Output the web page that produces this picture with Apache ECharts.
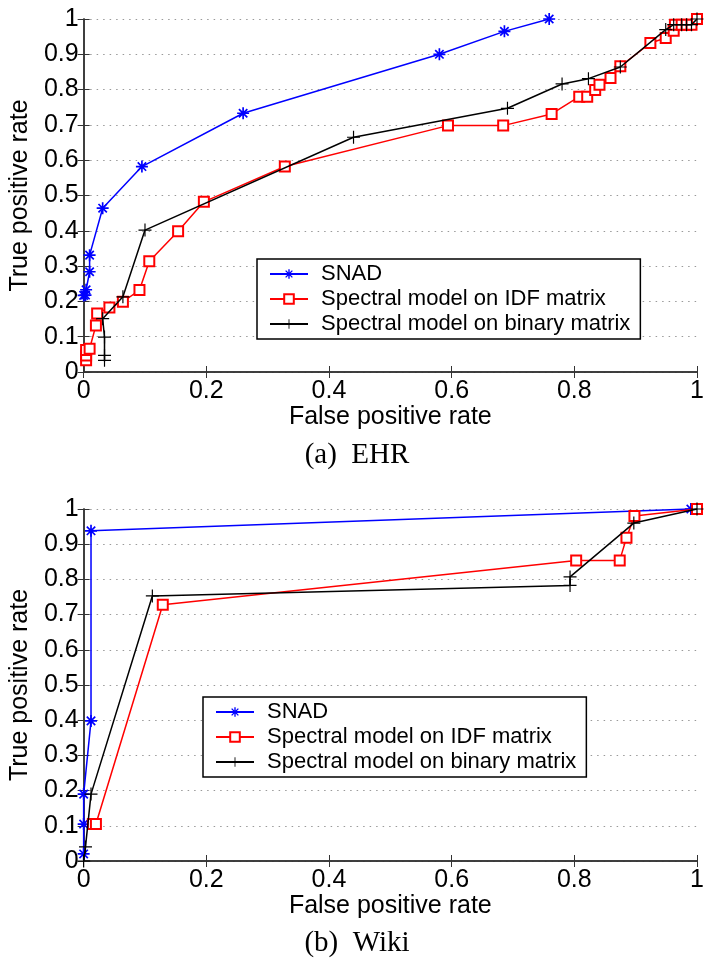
<!DOCTYPE html>
<html>
<head>
<meta charset="utf-8">
<script src="https://cdn.jsdelivr.net/npm/echarts@6/dist/echarts.min.js"></script>
<style>
html,body{margin:0;padding:0;background:#fff;}
#chart{width:714px;height:967px;}
</style>
</head>
<body>
<div id="chart"></div>
<script>
// ---------- DATA ----------
const seriesNames = ['SNAD', 'Spectral model on IDF matrix', 'Spectral model on binary matrix'];
const xTickLabels = ['0', '0.2', '0.4', '0.6', '0.8', '1'];
const captions = ['(a)  EHR', '(b)  Wiki'];

// (a) EHR
const ehrSnadX = [0, 0.003, 0.004, 0.0097, 0.0097, 0.031, 0.095, 0.26, 0.58, 0.686, 0.759];
const ehrSnadY = [0.217, 0.218, 0.233, 0.284, 0.331, 0.464, 0.582, 0.733, 0.9, 0.965, 1.0];

const ehrIdfX = [0.004, 0.004, 0.004, 0.0097, 0.02, 0.022, 0.042, 0.064, 0.091, 0.107, 0.154, 0.196, 0.328, 0.594, 0.684, 0.763, 0.808, 0.821, 0.834, 0.841, 0.859, 0.875, 0.924, 0.949, 0.962, 0.964, 0.975, 0.983, 0.991, 1.0];
const ehrIdfY = [0.033, 0.047, 0.062, 0.066, 0.132, 0.166, 0.183, 0.199, 0.232, 0.314, 0.399, 0.482, 0.582, 0.698, 0.698, 0.731, 0.78, 0.78, 0.799, 0.814, 0.833, 0.866, 0.932, 0.946, 0.967, 0.984, 0.984, 0.984, 0.984, 1.0];

const ehrBinX = [0.034, 0.034, 0.034, 0.031, 0.064, 0.1, 0.44, 0.691, 0.78, 0.823, 0.875, 0.949, 0.962, 0.975, 0.983, 0.991, 1.0];
const ehrBinY = [0.033, 0.047, 0.099, 0.151, 0.213, 0.402, 0.665, 0.747, 0.816, 0.831, 0.864, 0.97, 0.984, 0.984, 0.984, 0.984, 1.0];

// (b) Wiki
const wikiSnadX = [0, 0, 0, 0.012, 0.012, 0.99, 1.0];
const wikiSnadY = [0.02, 0.105, 0.19, 0.398, 0.938, 1.0, 1.0];

const wikiIdfX = [0.015, 0.02, 0.129, 0.803, 0.874, 0.885, 0.898, 1.0];
const wikiIdfY = [0.105, 0.105, 0.728, 0.854, 0.854, 0.918, 0.98, 1.0];

const wikiBinX = [0, 0.003, 0.012, 0.112, 0.793, 0.793, 0.897, 1.0];
const wikiBinY = [0, 0.04, 0.19, 0.753, 0.783, 0.807, 0.96, 1.0];

// ---------- STYLE ----------
const SANS = 'Liberation Sans';
const colors = ['#0000ff', '#ff0000', '#000000'];
const starPath = 'path://M-10,-1.4L10,-1.4L10,1.4L-10,1.4Z M-1.4,-10L1.4,-10L1.4,10L-1.4,10Z M-8,-6L-6,-8L8,6L6,8Z M-8,6L6,-8L8,-6L-6,8Z';
const plusPath = 'path://M-10,-0.9L10,-0.9L10,0.9L-10,0.9Z M-0.9,-10L0.9,-10L0.9,10L-0.9,10Z';

function zip(xs, ys) { return xs.map((x, i) => [x, ys[i]]); }
function fmt(v) { return String(+v.toFixed(1)); }

const grids = [
  {left: 79, right: 17, top: 19, height: 353},
  {left: 79, right: 17, top: 509, height: 352}
];

const axisLineStyle = {color: '#333', width: 1.5};
const xAxes = [], yAxes = [];
[0, 1].forEach(g => {
  xAxes.push({
    gridIndex: g, type: 'value', min: 0, max: 1, interval: 0.2, position: 'bottom',
    name: 'False positive rate', nameLocation: 'middle', nameGap: 26,
    nameTextStyle: {fontFamily: SANS, fontSize: 25, color: '#000'},
    axisLine: {show: true, lineStyle: axisLineStyle},
    axisTick: {show: true, inside: true, length: 6, lineStyle: {color: '#333'}},
    axisLabel: {show: true, fontFamily: SANS, fontSize: 25, color: '#000', margin: 7,
      formatter: v => xTickLabels[Math.round(v * 5)]},
    splitLine: {show: false}
  });
  xAxes.push({
    gridIndex: g, type: 'value', min: 0, max: 1, interval: 0.2, position: 'top',
    axisLine: {show: true, lineStyle: axisLineStyle},
    axisTick: {show: true, inside: true, length: 6, lineStyle: {color: '#333'}},
    axisLabel: {show: false}, splitLine: {show: false}
  });
  yAxes.push({
    gridIndex: g, type: 'value', min: 0, max: 1, interval: 0.1, position: 'left',
    name: 'True positive rate', nameLocation: 'middle', nameGap: 41, nameRotate: 90,
    nameTextStyle: {fontFamily: SANS, fontSize: 25, color: '#000'},
    axisLine: {show: true, lineStyle: axisLineStyle},
    axisTick: {show: true, inside: true, length: 6, lineStyle: {color: '#333'}},
    axisLabel: {show: true, fontFamily: SANS, fontSize: 25, color: '#000', margin: 5, formatter: fmt},
    splitLine: {show: true, lineStyle: {color: '#999', width: 1, type: [1.5, 5]}}
  });
  yAxes.push({
    gridIndex: g, type: 'value', min: 0, max: 1, interval: 0.1, position: 'right',
    axisLine: {show: true, lineStyle: axisLineStyle},
    axisTick: {show: true, inside: true, length: 6, lineStyle: {color: '#333'}},
    axisLabel: {show: false}, splitLine: {show: false}
  });
});

function mkSeries(name, data, g, idx) {
  const sym = idx === 0 ? starPath : (idx === 1 ? 'emptyRect' : plusPath);
  const size = idx === 0 ? 12 : (idx === 1 ? 10 : 13);
  return {
    name: name, type: 'line', data: data,
    xAxisIndex: g * 2, yAxisIndex: g * 2,
    symbol: sym, symbolSize: size, showAllSymbol: true, clip: false,
    lineStyle: {color: colors[idx], width: 1.5},
    itemStyle: {color: colors[idx], borderColor: colors[idx], borderWidth: idx === 1 ? 1.4 : 0},
    z: 2 + idx, animation: false
  };
}

const series = [
  mkSeries(seriesNames[0], zip(ehrSnadX, ehrSnadY), 0, 0),
  mkSeries(seriesNames[1], zip(ehrIdfX, ehrIdfY), 0, 1),
  mkSeries(seriesNames[2], zip(ehrBinX, ehrBinY), 0, 2),
  mkSeries(seriesNames[0], zip(wikiSnadX, wikiSnadY), 1, 0),
  mkSeries(seriesNames[1], zip(wikiIdfX, wikiIdfY), 1, 1),
  mkSeries(seriesNames[2], zip(wikiBinX, wikiBinY), 1, 2)
];

function mkLegend(left, top) {
  return {
    data: seriesNames, orient: 'vertical', left: left, top: top,
    backgroundColor: '#fff', borderColor: '#000', borderWidth: 1.5,
    padding: [4, 10, 4, 12], itemGap: 3, itemWidth: 38, itemHeight: 12,
    selectedMode: false,
    textStyle: {fontFamily: SANS, fontSize: 22, color: '#000', lineHeight: 22, padding: [0, 0, 0, 8]}
  };
}

const chart = echarts.init(document.getElementById('chart'), null, {renderer: 'canvas'});
chart.setOption({
  backgroundColor: '#fff',
  animation: false,
  grid: grids,
  xAxis: xAxes,
  yAxis: yAxes,
  legend: [mkLegend(257, 259), mkLegend(203, 697)],
  series: series,
  graphic: [
    {type: 'text', left: 'center', top: 441, style: {text: captions[0], font: '29px "Liberation Serif"', fill: '#000'}},
    {type: 'text', left: 'center', top: 929, style: {text: captions[1], font: '29px "Liberation Serif"', fill: '#000'}}
  ]
});
</script>
</body>
</html>
